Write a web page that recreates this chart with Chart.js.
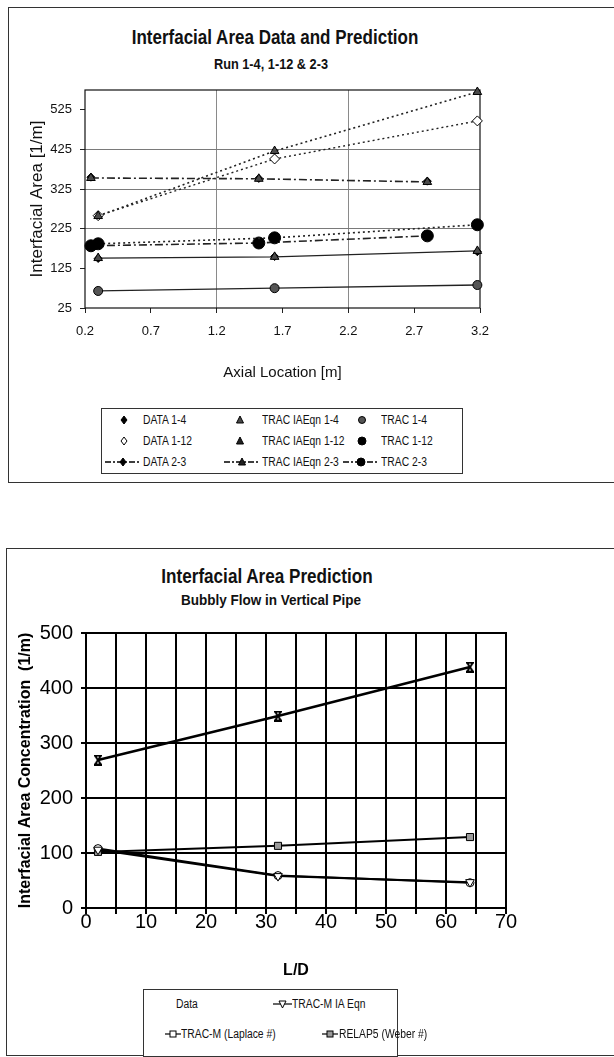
<!DOCTYPE html>
<html>
<head>
<meta charset="utf-8">
<script src="https://cdn.jsdelivr.net/npm/chart.js@4.4.1/dist/chart.umd.min.js"></script>
<style>
  body { margin: 0; background: #fff; width: 614px; height: 1057px; position: relative; overflow: hidden;
         font-family: 'Liberation Sans', Arial, sans-serif; color: #111; }
  .frame { position: absolute; border: 1px solid #333; }
  #frameTop { left: 8px; top: 7px; width: 620px; height: 474px; }
  #frameBot { left: 6px; top: 548px; width: 620px; height: 506px; }
  canvas { position: absolute; }
  .title { position: absolute; font-weight: bold; white-space: nowrap; line-height: 1; }
  .legend { position: absolute; border: 1px solid #333; background: #fff; }
  .item { position: absolute; white-space: nowrap; line-height: 1; }
  .item svg { position: absolute; }
  .item span { display: inline-block; transform: scaleX(0.86); transform-origin: left center; }
</style>
</head>
<body>
<div class="frame" id="frameTop"></div>
<div class="frame" id="frameBot"></div>

<div class="title" style="left:275px;top:27px;font-size:20px;transform:translateX(-50%) scaleX(0.85);">Interfacial Area Data and Prediction</div>
<div class="title" style="left:271px;top:56px;font-size:15px;transform:translateX(-50%) scaleX(0.85);">Run 1-4, 1-12 &amp; 2-3</div>
<canvas id="areaChart" width="604" height="473" style="left:9px;top:8px;"></canvas>
<div class="legend" id="legendTop" style="left:101px;top:408px;width:360px;height:64px;"></div>

<div class="title" style="left:267px;top:566px;font-size:20px;transform:translateX(-50%) scaleX(0.855);">Interfacial Area Prediction</div>
<div class="title" style="left:271px;top:592px;font-size:15px;transform:translateX(-50%) scaleX(0.9);">Bubbly Flow in Vertical Pipe</div>
<canvas id="predChart" width="607" height="503" style="left:7px;top:549px;"></canvas>
<div class="legend" id="legendBot" style="left:143px;top:989px;width:253px;height:66px;"></div>

<script>
// ── Data: interfacial area along the pipe (runs 1-4, 1-12, 2-3) ──
const runAX = [0.30, 1.64, 3.18];     // axial stations, runs 1-4 and 1-12
const runBX = [0.245, 1.52, 2.80];    // axial stations, run 2-3
const data14 = [150, 155, 167];
const data112 = [258, 401, 497];
const data23 = [355, 352, 345];
const iaEqn14 = [151, 154, 169];
const iaEqn112 = [257, 421, 570];
const iaEqn23 = [353, 351, 343];
const trac14 = [68, 75, 83];
const trac112 = [187, 202, 235];
const trac23 = [182, 189, 207];
const axialTicks = [0.2, 0.7, 1.2, 1.7, 2.2, 2.7, 3.2];
const areaTicks = [25, 125, 225, 325, 425, 525];
const axialGrid = [1.2, 2.2];
const areaGrid = [225, 325, 425];

// ── Data: bubbly flow prediction vs L/D ──
const ldStations = [2, 32, 64];
const measured = [269, 349, 438];
const tracIaEqn = [106, 58, 47];
const tracLaplace = [108, 59, 46];
const relap5 = [102, 113, 129];
const ldTicks = [0, 5, 10, 15, 20, 25, 30, 35, 40, 45, 50, 55, 60, 65, 70];
const concTicks = [0, 100, 200, 300, 400, 500];

const SANS = "'Liberation Sans', Arial, sans-serif";

const pts = (xs, ys) => xs.map((x, i) => ({ x, y: ys[i] }));
const near = (v, list) => list.some(t => Math.abs(t - v) < 1e-6);
const fixTicks = list => scale => { scale.ticks = list.map(value => ({ value })); };

// draws the black frame round the plot area
const frameBox = {
  id: 'frameBox',
  beforeDatasetsDraw(chart, args, opts) {
    const { ctx, chartArea: a } = chart;
    ctx.save();
    ctx.strokeStyle = opts.color || '#000';
    ctx.lineWidth = opts.width || 1;
    ctx.strokeRect(a.left, a.top, a.right - a.left, a.bottom - a.top);
    ctx.restore();
  }
};

// error-bar style marker for the measured points
function ibeam() {
  const c = document.createElement('canvas');
  c.width = 10; c.height = 11;
  const g = c.getContext('2d');
  g.strokeStyle = '#000'; g.lineWidth = 2;
  g.beginPath();
  g.moveTo(1, 1); g.lineTo(9, 1);
  g.moveTo(1, 10); g.lineTo(9, 10);
  g.moveTo(2, 1); g.lineTo(8, 10);
  g.moveTo(8, 1); g.lineTo(2, 10);
  g.stroke();
  return c;
}

const DOT = [2, 3];
const DASHDOT = [8, 3, 2, 3];
const TRI = '#4a4a4a';

function series(label, data, o) {
  return Object.assign({
    label, data, showLine: true, clip: false,
    borderColor: '#222', borderWidth: 1.3, borderDash: [],
    pointBorderColor: '#000', pointBorderWidth: 1, pointRadius: 4
  }, o);
}

// ── Top chart ──
new Chart(document.getElementById('areaChart'), {
  type: 'scatter',
  data: {
    datasets: [
      series('TRAC IAEqn 1-12', pts(runAX, iaEqn112), { borderDash: DOT, borderWidth: 1.6, pointStyle: 'triangle', pointRadius: 5, pointBackgroundColor: TRI }),
      series('TRAC IAEqn 1-4', pts(runAX, iaEqn14), { pointStyle: 'triangle', pointRadius: 5, pointBackgroundColor: TRI }),
      series('TRAC IAEqn 2-3', pts(runBX, iaEqn23), { borderDash: DASHDOT, borderWidth: 1.6, pointStyle: 'triangle', pointRadius: 5, pointBackgroundColor: TRI }),
      series('TRAC 1-12', pts(runAX, trac112), { borderDash: DOT, borderWidth: 1.6, pointStyle: 'circle', pointRadius: 6, pointBackgroundColor: '#000' }),
      series('TRAC 2-3', pts(runBX, trac23), { borderDash: DASHDOT, borderWidth: 1.6, pointStyle: 'circle', pointRadius: 6, pointBackgroundColor: '#000' }),
      series('TRAC 1-4', pts(runAX, trac14), { pointStyle: 'circle', pointRadius: 4.5, pointBackgroundColor: '#555' }),
      series('DATA 1-12', pts(runAX, data112), { borderDash: DOT, borderWidth: 1.4, pointStyle: 'rectRot', pointRadius: 5, pointBackgroundColor: '#fff' }),
      series('DATA 1-4', pts(runAX, data14), { showLine: false, pointStyle: 'rectRot', pointRadius: 4, pointBackgroundColor: '#000' }),
      series('DATA 2-3', pts(runBX, data23), { showLine: false, pointStyle: 'rectRot', pointRadius: 4, pointBackgroundColor: '#000' })
    ]
  },
  options: {
    responsive: false,
    animation: false,
    layout: { padding: { left: 0, top: 82, right: 133, bottom: 93 } },
    plugins: { legend: { display: false }, tooltip: { enabled: false }, frameBox: { color: '#111', width: 1.2 } },
    scales: {
      x: {
        type: 'linear', min: 0.2, max: 3.2,
        afterBuildTicks: fixTicks(axialTicks),
        afterFit: s => { s.height = 80; },
        border: { display: false },
        grid: { color: c => near(c.tick.value, axialGrid) ? '#8a8a8a' : 'rgba(0,0,0,0)', tickColor: '#222', tickLength: 5 },
        ticks: { padding: 11, color: '#111', autoSkip: false, maxRotation: 0, font: { family: SANS, size: 13 }, callback: v => v.toFixed(1) },
        title: { display: true, text: 'Axial Location [m]', color: '#111', font: { family: SANS, size: 15 }, padding: { bottom: 6 } }
      },
      y: {
        type: 'linear', min: 25, max: 575,
        afterBuildTicks: fixTicks(areaTicks),
        afterFit: s => { s.width = 76; },
        border: { display: false },
        grid: { color: c => near(c.tick.value, areaGrid) ? '#7a7a7a' : 'rgba(0,0,0,0)', tickColor: '#222', tickLength: 5 },
        ticks: { padding: 8, color: '#111', font: { family: SANS, size: 13 } },
        title: { display: true, text: 'Interfacial Area [1/m]', color: '#111', font: { family: SANS, size: 17 }, padding: { top: 18 } }
      }
    }
  },
  plugins: [frameBox]
});

// ── Bottom chart ──
new Chart(document.getElementById('predChart'), {
  type: 'scatter',
  data: {
    datasets: [
      series('Data', pts(ldStations, measured), { borderColor: '#000', borderWidth: 2.6, pointStyle: ibeam(), pointRadius: 5 }),
      series('TRAC-M IA Eqn', pts(ldStations, tracIaEqn), { borderColor: '#000', borderWidth: 2, pointStyle: 'triangle', rotation: 180, pointRadius: 5, pointBackgroundColor: '#fff' }),
      series('TRAC-M (Laplace #)', pts(ldStations, tracLaplace), { borderColor: '#000', borderWidth: 2, pointStyle: 'circle', pointRadius: 4, pointBackgroundColor: '#fff' }),
      series('RELAP5 (Weber #)', pts(ldStations, relap5), { borderColor: '#000', borderWidth: 2, pointStyle: 'rect', pointRadius: 5, pointBackgroundColor: '#9a9a9a' })
    ]
  },
  options: {
    responsive: false,
    animation: false,
    layout: { padding: { left: 0, top: 84, right: 108, bottom: 44 } },
    plugins: { legend: { display: false }, tooltip: { enabled: false }, frameBox: { color: '#000', width: 2 } },
    scales: {
      x: {
        type: 'linear', min: 0, max: 70,
        afterBuildTicks: fixTicks(ldTicks),
        afterFit: s => { s.height = 100; },
        border: { display: false },
        grid: { color: '#000', lineWidth: 2, tickColor: '#000', tickLength: 6 },
        ticks: { padding: -4, color: '#000', autoSkip: false, maxRotation: 0, font: { family: SANS, size: 20 }, callback: v => v % 10 === 0 ? String(v) : '' },
        title: { display: true, text: 'L/D', color: '#000', font: { family: SANS, size: 16, weight: 'bold' }, padding: { bottom: 28 } }
      },
      y: {
        type: 'linear', min: 0, max: 500,
        afterBuildTicks: fixTicks(concTicks),
        afterFit: s => { s.width = 79; },
        border: { display: false },
        grid: { color: '#000', lineWidth: 2, tickColor: '#000', tickLength: 5 },
        ticks: { padding: 8, color: '#000', font: { family: SANS, size: 20 } },
        title: { display: true, text: 'Interfacial Area Concentration  (1/m)', color: '#000', font: { family: SANS, size: 16, weight: 'bold' }, padding: { top: 9 } }
      }
    }
  },
  plugins: [frameBox]
});

// ── Legends ──
const mk = {
  diamond: (fill) => `<polygon points="7,3 10,7 7,11 4,7" fill="${fill}" stroke="#000" stroke-width="1"/>`,
  triangle: (fill) => `<polygon points="7,3 10.5,10 3.5,10" fill="${fill}" stroke="#000" stroke-width="1"/>`,
  triDown: () => `<polygon points="3.5,4 10.5,4 7,11" fill="#fff" stroke="#000" stroke-width="1"/>`,
  circle: (fill, r) => `<circle cx="7" cy="7" r="${r}" fill="${fill}" stroke="#000" stroke-width="1"/>`,
  square: (fill) => `<rect x="4" y="4" width="6" height="6" fill="${fill}" stroke="#000" stroke-width="1"/>`
};

function sample(width, marker, dash, lw) {
  const cx = width / 2;
  const line = dash === null ? '' :
    `<line x1="0" y1="7" x2="${width}" y2="7" stroke="#000" stroke-width="${lw || 1.3}" stroke-dasharray="${dash}"/>`;
  return `<svg width="${width}" height="14" viewBox="0 0 ${width} 14"><g>${line}</g><g transform="translate(${cx - 7},0)">${marker}</g></svg>`;
}

function addItem(box, x, y, svg, svgX, text, size) {
  const el = document.createElement('div');
  el.className = 'item';
  el.style.left = x + 'px';
  el.style.top = y + 'px';
  el.style.fontSize = size + 'px';
  el.innerHTML = (svg ? svg.replace('<svg', `<svg style="left:${svgX - x}px;top:${(size - 14) / 2}px"`) : '') + `<span>${text}</span>`;
  document.getElementById(box).appendChild(el);
}

const topRows = [
  [[mk.diamond('#000'), 'DATA 1-4'], [mk.triangle(TRI), 'TRAC IAEqn 1-4'], [mk.circle('#555', 3.5), 'TRAC 1-4']],
  [[mk.diamond('#fff'), 'DATA 1-12'], [mk.triangle('#222'), 'TRAC IAEqn 1-12'], [mk.circle('#000', 4), 'TRAC 1-12']],
  [[mk.diamond('#000'), 'DATA 2-3'], [mk.triangle('#222'), 'TRAC IAEqn 2-3'], [mk.circle('#000', 4), 'TRAC 2-3']]
];
const topCols = [{ mark: 15, text: 41 }, { mark: 131, text: 160 }, { mark: 253, text: 279 }];
topRows.forEach((row, r) => {
  row.forEach(([marker, text], c) => {
    const col = topCols[c];
    const w = r === 2 ? 36 : 14;
    const sx = r === 2 ? col.text - 38 : col.mark;
    addItem('legendTop', col.text, 5 + r * 21, sample(w, marker, r === 2 ? '6,2,2,2' : null), sx, text, 12);
  });
});

addItem('legendBot', 32, 8, null, 0, 'Data', 12);
addItem('legendBot', 148, 8, sample(19, mk.triDown(), 'none', 1.2), 129, 'TRAC-M IA Eqn', 12);
addItem('legendBot', 37, 38, sample(16, mk.square('#fff'), 'none', 1.2), 21, 'TRAC-M (Laplace #)', 12);
addItem('legendBot', 195, 38, sample(16, mk.square('#9a9a9a'), 'none', 1.2), 178, 'RELAP5 (Weber #)', 12);
</script>
</body>
</html>
